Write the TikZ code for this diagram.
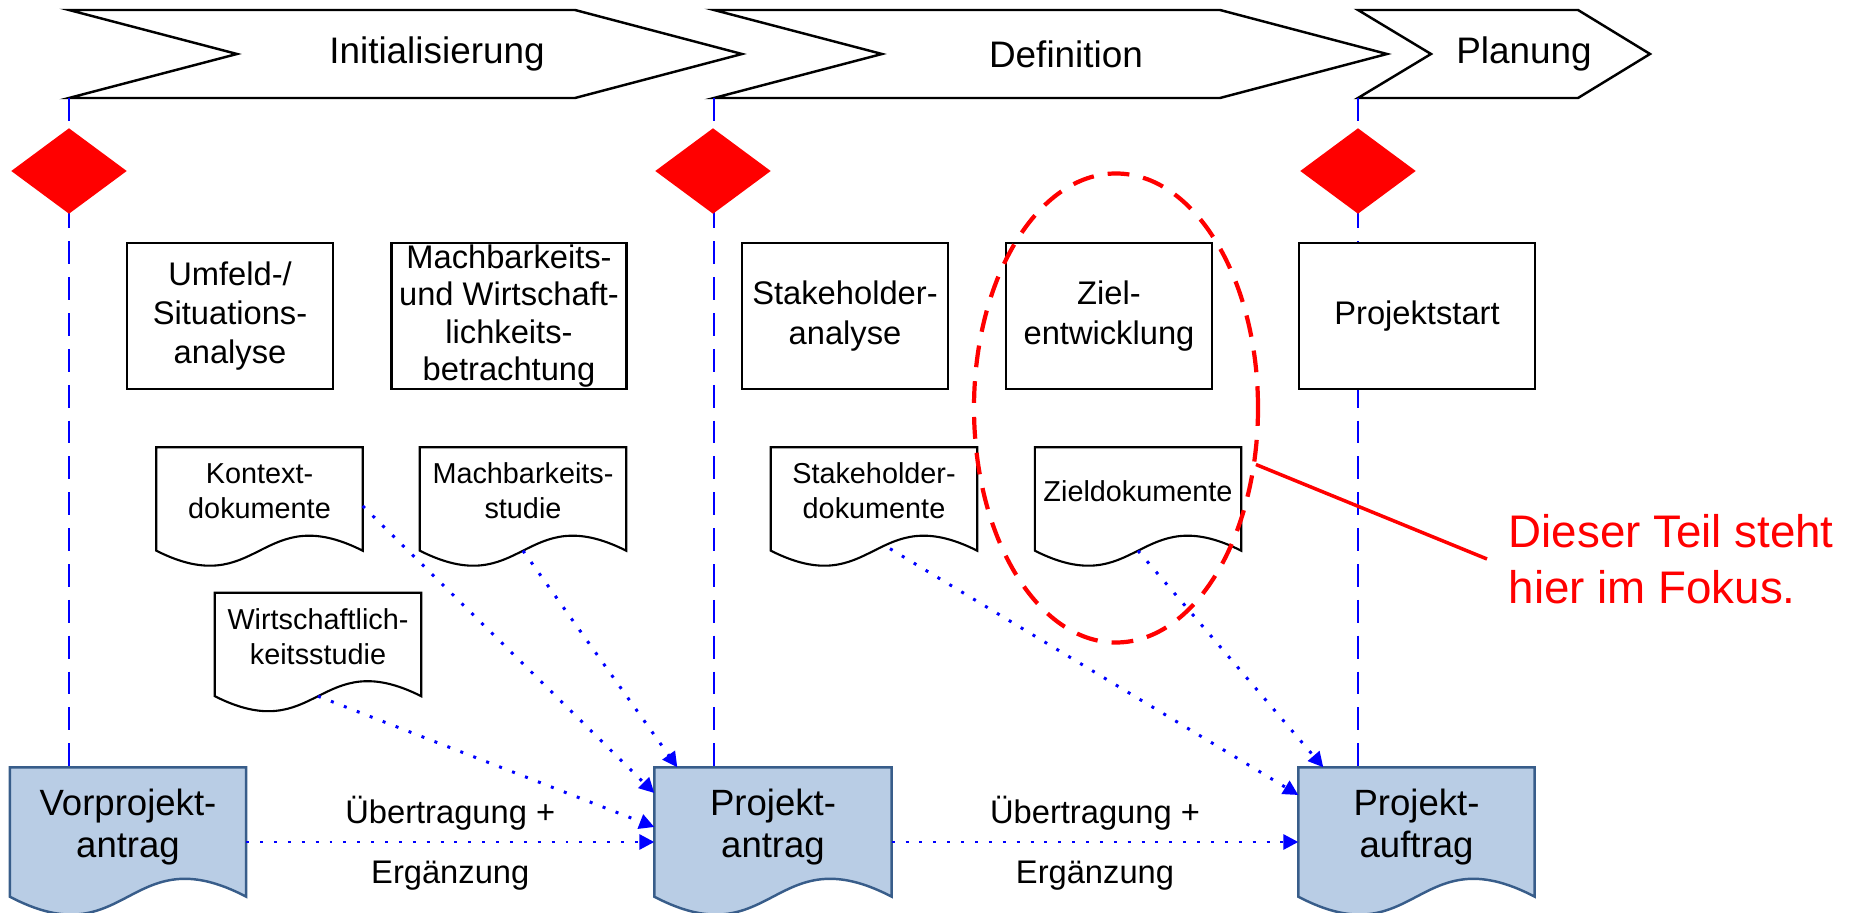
\documentclass[tikz,border=0pt]{standalone}
\usepackage{fontspec}
\setmainfont{Liberation Sans}
\usetikzlibrary{arrows.meta,shapes.geometric,calc}

\definecolor{docfill}{RGB}{185,205,229}
\definecolor{docedge}{RGB}{56,93,138}

\pgfdeclarelayer{background}
\pgfsetlayers{background,main}

% document outline below a named node: node, side overhang, wave height, style
\newcommand{\docshape}[4]{%
  \begin{pgfonlayer}{background}
  \draw[#4] (#1.north west) -- (#1.north east) -- ([yshift=-#2]#1.south east)
    .. controls ([yshift=#3-#2]#1.south) and ([yshift=-#3-#2]#1.south) .. ([yshift=-#2]#1.south west) -- cycle;
  \end{pgfonlayer}}

\begin{document}
\begin{tikzpicture}[
  phase/.style={draw=black, line width=0.7pt, fill=white},
  phasetext/.style={font=\fontsize{10.5}{12.6}\selectfont},
  gate/.style={draw=blue, line width=0.8pt, dash pattern=on 6.5pt off 3.7pt},
  milestone/.style={diamond, fill=red, minimum width=1.16cm, minimum height=0.86cm, inner sep=0pt},
  task/.style={draw=black, line width=0.6pt, fill=white, minimum width=2.06cm, minimum height=1.46cm,
    inner sep=0pt, align=center, font=\fontsize{9.3}{11.2}\selectfont},
  doc/.style={minimum width=2.05cm, minimum height=0.86cm, inner sep=0pt, align=center,
    font=\fontsize{8.2}{9.9}\selectfont},
  bigdoc/.style={minimum width=2.35cm, minimum height=1.18cm, inner sep=0pt, align=center,
    font=\fontsize{10.4}{11.9}\selectfont},
  docline/.style={draw=black, line width=0.6pt, fill=white},
  bigdocline/.style={draw=docedge, line width=0.7pt, fill=docfill},
  flow/.style={blue, line width=0.85pt, dash pattern=on 0.85pt off 3.1pt, -{Triangle[length=1.5mm,width=1.5mm]}},
  flowlabel/.style={font=\fontsize{9.3}{11.2}\selectfont, inner sep=1mm, text=black},
]
\useasboundingbox (0,0) rectangle (18.64,-9.13);

% phases
\draw[phase] (0.69,-0.10) -- (5.75,-0.10) -- (7.42,-0.54) -- (5.75,-0.98) -- (0.69,-0.98) -- (2.37,-0.54) -- cycle;
\draw[phase] (7.14,-0.10) -- (12.20,-0.10) -- (13.87,-0.54) -- (12.20,-0.98) -- (7.14,-0.98) -- (8.82,-0.54) -- cycle;
\draw[phase] (13.58,-0.10) -- (15.78,-0.10) -- (16.50,-0.54) -- (15.78,-0.98) -- (13.58,-0.98) -- (14.31,-0.54) -- cycle;
\node[phasetext] (init) at (4.37,-0.54) {Initialisierung};
\node[phasetext] (defi) at (10.66,-0.54) {Definition};
\node[phasetext] (plan) at (15.24,-0.54) {Planung};

\coordinate (g1) at (0.69,-0.98);
\coordinate (g2) at (7.14,-0.98);
\coordinate (g3) at (13.58,-0.98);

% result documents
\node[bigdoc] (vorantrag) at (1.28,-8.27) {Vorprojekt-\\antrag};
\node[bigdoc, minimum width=2.36cm] (projantrag) at (7.73,-8.27) {Projekt-\\antrag};
\node[bigdoc] (projauftrag) at (14.165,-8.27) {Projekt-\\auftrag};
\docshape{vorantrag}{1mm}{6.2mm}{bigdocline}
\docshape{projantrag}{1mm}{6.2mm}{bigdocline}
\docshape{projauftrag}{1mm}{6.2mm}{bigdocline}

% gates and milestones
\draw[gate] (g1) -- (g1 |- vorantrag.north);
\draw[gate] (g2) -- (g2 |- projantrag.north);
\draw[gate] (g3) -- (g3 |- projauftrag.north);
\node[milestone] (ms1) at (0.69,-1.71) {};
\node[milestone] (ms2) at (7.13,-1.71) {};
\node[milestone] (ms3) at (13.58,-1.71) {};

% activities
\node[task] (umfeld) at (2.30,-3.16) {Umfeld-/\\Situations-\\analyse};
\node[task, minimum width=2.35cm, font=\fontsize{9.3}{10.7}\selectfont] (machbar) at (5.09,-3.16)
  {Machbarkeits-\\und Wirtschaft-\\lichkeits-\\betrachtung};
\node[task] (stakeana) at (8.45,-3.16) {Stakeholder-\\analyse};
\node[task] (ziel) at (11.09,-3.16) {Ziel-\\entwicklung};
\node[task, minimum width=2.36cm] (projstart) at (14.17,-3.16) {Projektstart};

% working documents
\node[doc] (kontext) at (2.595,-4.91) {Kontext-\\dokumente};
\node[doc] (machstudie) at (5.23,-4.91) {Machbarkeits-\\studie};
\node[doc] (wirtschaft) at (3.18,-6.365) {Wirtschaftlich-\\keitsstudie};
\node[doc] (stakedok) at (8.74,-4.91) {Stakeholder-\\dokumente};
\node[doc] (zieldok) at (11.38,-4.91) {Zieldokumente};
\docshape{kontext}{1.6mm}{5.2mm}{docline}
\docshape{machstudie}{1.6mm}{5.2mm}{docline}
\docshape{wirtschaft}{1.6mm}{5.2mm}{docline}
\docshape{stakedok}{1.6mm}{5.2mm}{docline}
\docshape{zieldok}{1.6mm}{5.2mm}{docline}

% flows
\draw[flow] ([yshift=-1.5mm]kontext.east) -- ([yshift=3.4mm]projantrag.west);
\draw[flow] ([yshift=-1.6mm]machstudie.south) -- ([xshift=2.3mm]projantrag.north west);
\draw[flow] ([yshift=-1.6mm]wirtschaft.south) -- (projantrag.west);
\draw[flow] ([yshift=-1.5mm]vorantrag.east) --
  node[flowlabel, above=0mm] {Übertragung +} node[flowlabel, below=0.8mm] {Ergänzung}
  ([yshift=-1.5mm]projantrag.west);
\draw[flow] ([xshift=1.6mm,yshift=-1.4mm]stakedok.south) -- ([yshift=3.2mm]projauftrag.west);
\draw[flow] ([yshift=-1.6mm]zieldok.south) -- ([xshift=2.5mm]projauftrag.north west);
\draw[flow] ([yshift=-1.5mm]projantrag.east) --
  node[flowlabel, above=0mm] {Übertragung +} node[flowlabel, below=0.8mm] {Ergänzung}
  ([yshift=-1.5mm]projauftrag.west);

% focus
\node[ellipse, draw=red, line width=1.2pt, dash pattern=on 6.2pt off 4pt, inner sep=0pt,
  minimum width=2.84cm, minimum height=4.69cm] (fokusring) at (11.16,-4.08) {};
\node[anchor=west, inner sep=0pt, align=left, text=red, font=\fontsize{13}{15.9}\selectfont]
  (fokus) at (15.08,-5.59) {Dieser Teil steht\\hier im Fokus.};
\draw[red, line width=1pt] (fokusring.-22) -- ([xshift=-2.1mm]fokus.west);
\end{tikzpicture}
\end{document}
